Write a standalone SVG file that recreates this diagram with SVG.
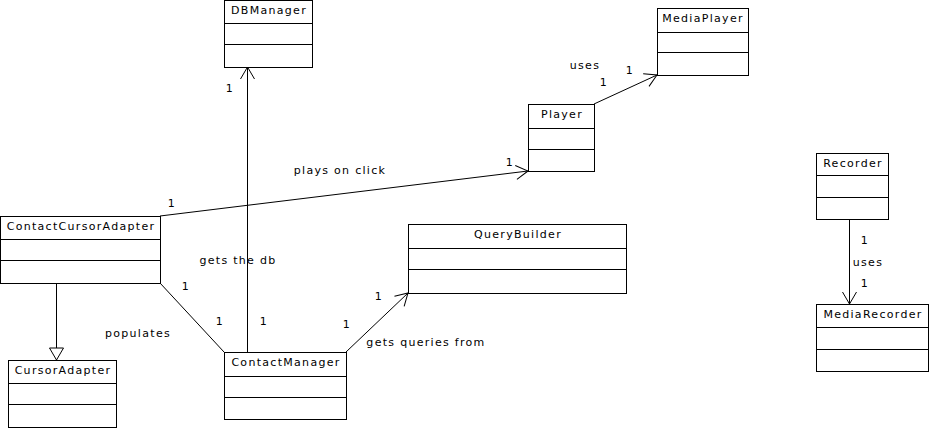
<svg xmlns="http://www.w3.org/2000/svg" width="930" height="430" viewBox="0 0 930 430">
<style>
  rect, line.sep { fill: #fff; stroke: #000; stroke-width: 1; shape-rendering: crispEdges; }
  line.sep { fill: none; }
  .c line { stroke: #000; stroke-width: 1; fill: none; }
  text { font-family: "DejaVu Sans", "Liberation Sans", sans-serif; font-size: 11px; letter-spacing: 1.3px; fill: #000; text-anchor: middle; }
</style>
<defs>
  <marker id="open" markerUnits="userSpaceOnUse" markerWidth="30" markerHeight="30" viewBox="-15 -15 30 30" refX="0" refY="0" orient="auto" overflow="visible">
    <path d="M -12 -7 L 0 0 L -12 7" fill="none" stroke="#000" stroke-width="1"/>
  </marker>
  <marker id="tri" markerUnits="userSpaceOnUse" markerWidth="30" markerHeight="30" viewBox="-15 -15 30 30" refX="0" refY="0" orient="auto" overflow="visible">
    <path d="M -12 -7 L 0 0 L -12 7 Z" fill="#fff" stroke="#000" stroke-width="1"/>
  </marker>
</defs>
<rect x="0" y="0" width="930" height="430" style="stroke:none;fill:#fff"/>

<g id="connectors" class="c">
  <line x1="160" y1="216" x2="528" y2="171" marker-end="url(#open)"/>
  <line x1="56.5" y1="283" x2="56.5" y2="360" marker-end="url(#tri)"/>
  <line x1="160" y1="283" x2="224" y2="352"/>
  <line x1="247.5" y1="352" x2="247.5" y2="67" marker-end="url(#open)"/>
  <line x1="346" y1="352" x2="408" y2="293" marker-end="url(#open)"/>
  <line x1="594" y1="104" x2="657" y2="75" marker-end="url(#open)"/>
  <line x1="849.5" y1="219" x2="849.5" y2="304" marker-end="url(#open)"/>
</g>

<g id="labels">
  <text x="172" y="207">1</text>
  <text x="510" y="166">1</text>
  <text x="340" y="174">plays on click</text>
  <text x="186" y="290">1</text>
  <text x="220" y="325">1</text>
  <text x="138" y="337">populates</text>
  <text x="264" y="325">1</text>
  <text x="230" y="92">1</text>
  <text x="238" y="264">gets the db</text>
  <text x="347" y="328">1</text>
  <text x="379" y="300">1</text>
  <text x="426" y="346">gets queries from</text>
  <text x="585" y="69">uses</text>
  <text x="604" y="86">1</text>
  <text x="630" y="74">1</text>
  <text x="865" y="244">1</text>
  <text x="868" y="266">uses</text>
  <text x="865" y="287">1</text>
</g>

<g id="DBManager">
  <rect x="224.5" y="0.5" width="88" height="66.5"/>
  <line class="sep" x1="224.5" y1="23.5" x2="312.5" y2="23.5"/>
  <line class="sep" x1="224.5" y1="44.5" x2="312.5" y2="44.5"/>
  <text x="269" y="14">DBManager</text>
</g>
<g id="MediaPlayer">
  <rect x="657.5" y="8.5" width="91" height="67"/>
  <line class="sep" x1="657.5" y1="32.5" x2="748.5" y2="32.5"/>
  <line class="sep" x1="657.5" y1="52.5" x2="748.5" y2="52.5"/>
  <text x="703" y="22">MediaPlayer</text>
</g>
<g id="Player">
  <rect x="528.5" y="104.5" width="66" height="67"/>
  <line class="sep" x1="528.5" y1="128.5" x2="594.5" y2="128.5"/>
  <line class="sep" x1="528.5" y1="149.5" x2="594.5" y2="149.5"/>
  <text x="562" y="118">Player</text>
</g>
<g id="Recorder">
  <rect x="816.5" y="153.5" width="72" height="66"/>
  <line class="sep" x1="816.5" y1="175.5" x2="888.5" y2="175.5"/>
  <line class="sep" x1="816.5" y1="197.5" x2="888.5" y2="197.5"/>
  <text x="853" y="167">Recorder</text>
</g>
<g id="MediaRecorder">
  <rect x="816.5" y="304.5" width="112" height="67"/>
  <line class="sep" x1="816.5" y1="327.5" x2="928.5" y2="327.5"/>
  <line class="sep" x1="816.5" y1="349.5" x2="928.5" y2="349.5"/>
  <text x="873" y="318">MediaRecorder</text>
</g>
<g id="ContactCursorAdapter">
  <rect x="0.5" y="216.5" width="160" height="67"/>
  <line class="sep" x1="0.5" y1="239.5" x2="160.5" y2="239.5"/>
  <line class="sep" x1="0.5" y1="260.5" x2="160.5" y2="260.5"/>
  <text x="81" y="230">ContactCursorAdapter</text>
</g>
<g id="QueryBuilder">
  <rect x="408.5" y="224.5" width="218" height="69"/>
  <line class="sep" x1="408.5" y1="248.5" x2="626.5" y2="248.5"/>
  <line class="sep" x1="408.5" y1="269.5" x2="626.5" y2="269.5"/>
  <text x="518" y="238">QueryBuilder</text>
</g>
<g id="CursorAdapter">
  <rect x="8.5" y="360.5" width="108" height="67"/>
  <line class="sep" x1="8.5" y1="383.5" x2="116.5" y2="383.5"/>
  <line class="sep" x1="8.5" y1="404.5" x2="116.5" y2="404.5"/>
  <text x="63" y="374">CursorAdapter</text>
</g>
<g id="ContactManager">
  <rect x="224.5" y="352.5" width="122" height="67"/>
  <line class="sep" x1="224.5" y1="376.5" x2="346.5" y2="376.5"/>
  <line class="sep" x1="224.5" y1="397.5" x2="346.5" y2="397.5"/>
  <text x="286" y="366">ContactManager</text>
</g>
</svg>
